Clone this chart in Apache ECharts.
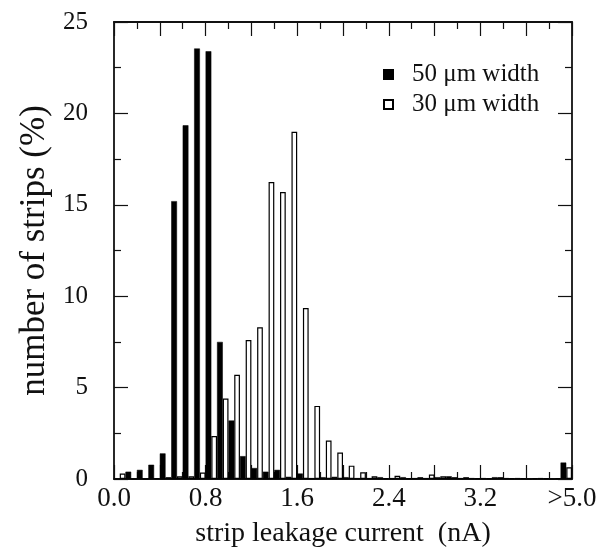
<!DOCTYPE html>
<html>
<head>
<meta charset="utf-8">
<script src="https://cdn.jsdelivr.net/npm/echarts@6/dist/echarts.min.js"></script>
<style>
html,body{margin:0;padding:0;background:#fff;}
#chart{width:608px;height:550px;}
</style>
</head>
<body>
<div id="chart"></div>
<script>
// bin centres of the 0.1 nA histogram bins (last bin is the overflow bin)
var binCenters = [0.05,0.15,0.25,0.35,0.45,0.55,0.65,0.75,0.85,0.95,
                  1.05,1.15,1.25,1.35,1.45,1.55,1.65,1.75,1.85,1.95,
                  2.05,2.15,2.25,2.35,2.45,2.55,2.65,2.75,2.85,2.95,
                  3.05,3.15,3.25,3.35,3.45,3.55,3.65,3.75,3.85,3.95];
// number of strips (%) — 50 µm width
var width50 = [0,0.4,0.5,0.78,1.4,15.2,19.35,23.55,23.4,7.5,
               3.2,1.25,0.6,0.4,0.5,0.12,0.3,0.05,0.1,0.12,
               0.1,0.05,0.05,0.1,0.05,0.1,0.05,0.05,0.1,0.15,
               0.05,0.05,0.05,0.1,0.05,0.05,0,0.05,0,0.9];
// number of strips (%) — 30 µm width
var width30 = [0.3,0,0,0.05,0.1,0.15,0.15,0.35,2.35,4.4,
               5.7,7.6,8.3,16.25,15.7,19.0,9.35,4.0,2.1,1.45,
               0.73,0.37,0.15,0.05,0.18,0.05,0.1,0.25,0.15,0.1,
               0.1,0.05,0.05,0.1,0.05,0.05,0.05,0.05,0.05,0.64];
var xTickValues = [0, 0.8, 1.6, 2.4, 3.2, 4.0];
var xTickTexts = ['0.0', '0.8', '1.6', '2.4', '3.2', '>5.0'];
var seriesNames = ['50 \u03bcm width', '30 \u03bcm width'];

var FONT = '"Liberation Serif","Times New Roman",serif';
var INK = '#111';

function pairs(vals) {
  return vals.map(function (v, i) { return [binCenters[i], v]; });
}
function xLabel(v) {
  for (var i = 0; i < xTickValues.length; i++) {
    if (Math.abs(v - xTickValues[i]) < 1e-6) return xTickTexts[i];
  }
  return '';
}

function ticks() {
  return {
    axisLine: {show: true, onZero: false, lineStyle: {color: INK, width: 1.8}},
    axisTick: {show: true, inside: true, length: 14, lineStyle: {color: INK, width: 1.2}},
    minorTick: {show: true, splitNumber: 2, length: 7, lineStyle: {color: INK, width: 1.2}},
    splitLine: {show: false},
    minorSplitLine: {show: false}
  };
}

var chart = echarts.init(document.getElementById('chart'), null, {renderer: 'canvas'});
chart.setOption({
  animation: false,
  backgroundColor: '#fff',
  grid: {left: 114, right: 36, top: 22, bottom: 71, show: false, containLabel: false, outerBoundsMode: 'none'},
  legend: {
    orient: 'vertical',
    left: 378, top: 57,
    itemWidth: 9, itemHeight: 9,
    itemGap: 5,
    icon: 'rect',
    data: seriesNames,
    textStyle: {fontFamily: FONT, fontSize: 25, color: INK, padding: [0, 0, 0, 14]}
  },
  xAxis: [
    Object.assign(ticks(), {
      type: 'value', position: 'bottom', min: 0, max: 4, interval: 0.4,
      name: 'strip leakage current  (nA)', nameLocation: 'middle', nameGap: 41,
      nameTextStyle: {fontFamily: FONT, fontSize: 28, color: INK},
      axisLabel: {formatter: xLabel, margin: 6, fontFamily: FONT, fontSize: 27, color: INK,
                  showMinLabel: true, showMaxLabel: true, hideOverlap: false}
    }),
    Object.assign(ticks(), {
      type: 'value', position: 'top', min: 0, max: 4, interval: 0.4,
      axisLabel: {show: false}
    })
  ],
  yAxis: [
    Object.assign(ticks(), {
      type: 'value', position: 'left', min: 0, max: 25, interval: 5,
      name: 'number of strips (%)', nameLocation: 'middle', nameGap: 58,
      nameTextStyle: {fontFamily: FONT, fontSize: 35, color: INK},
      axisLabel: {margin: 26, fontFamily: FONT, fontSize: 25, color: INK}
    }),
    Object.assign(ticks(), {
      type: 'value', position: 'right', min: 0, max: 25, interval: 5,
      axisLabel: {show: false}
    })
  ],
  series: [
    {
      name: seriesNames[0], type: 'bar', xAxisIndex: 0, yAxisIndex: 0,
      data: pairs(width50), barGap: '0%', barCategoryGap: '0%',
      itemStyle: {color: '#000', borderColor: '#000', borderWidth: 0.5}
    },
    {
      name: seriesNames[1], type: 'bar', xAxisIndex: 0, yAxisIndex: 0,
      data: pairs(width30), barGap: '0%', barCategoryGap: '0%',
      itemStyle: {color: '#fff', borderColor: '#000', borderWidth: 1.2}
    }
  ]
});
</script>
</body>
</html>
